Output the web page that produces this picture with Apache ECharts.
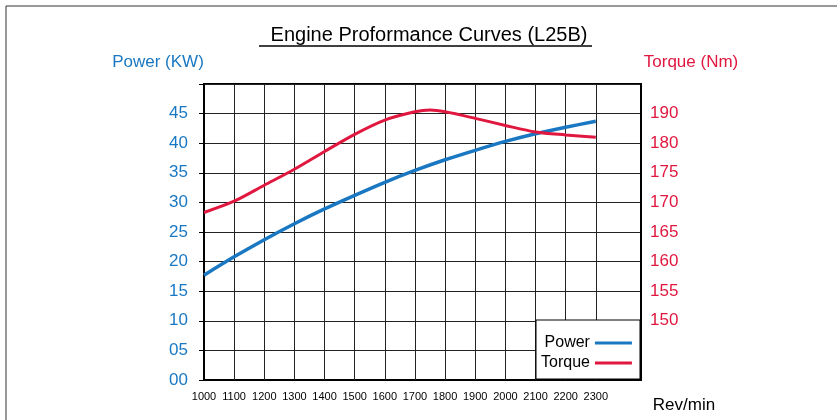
<!DOCTYPE html>
<html>
<head>
<meta charset="utf-8">
<script src="https://cdn.jsdelivr.net/npm/echarts@6/dist/echarts.min.js"></script>
<style>
html, body { margin: 0; padding: 0; background: #fff; }
#customerChart { width: 837px; height: 420px; }
</style>
</head>
<body>
<div id="customerChart"></div>
<script>
// engine speed (rev/min)
var rpm = [1000, 1100, 1200, 1300, 1400, 1500, 1600, 1700, 1800, 1900, 2000, 2100, 2200, 2300];
var power = [17.7, 20.8, 23.7, 26.4, 28.9, 31.2, 33.4, 35.4, 37.2, 38.8, 40.3, 41.6, 42.7, 43.7];
// torque has an extra point at the peak
var torqueRpm = [1000, 1100, 1200, 1300, 1400, 1500, 1600, 1700, 1750, 1800, 1900, 2000, 2100, 2200, 2300];
var torque = [168.3, 170.2, 172.9, 175.6, 178.6, 181.5, 183.9, 185.3, 185.6, 185.3, 184.2, 183.0, 181.9, 181.4, 181.0];

// tick labels as printed on the sheet
var powerLabels = ['00', '05', '10', '15', '20', '25', '30', '35', '40', '45', ''];
var torqueLabels = ['', '', '150', '155', '160', '165', '170', '175', '180', '190', ''];
var gridRpm = [1100, 1200, 1300, 1400, 1500, 1600, 1700, 1800, 1900, 2000, 2100, 2200, 2300];

var blue = '#1a78c2';
var red = '#e0173f';
var font = 'Liberation Sans';

var myChart = echarts.init(document.getElementById('customerChart'));
myChart.setOption({
  animation: false,
  textStyle: { fontFamily: font },
  grid: {
    left: 204, right: 196, top: 84, bottom: 40,
    show: true, borderColor: '#000', borderWidth: 2
  },
  legend: {
    left: 536, top: 330,
    orient: 'vertical',
    align: 'right',
    icon: 'rect',
    itemWidth: 37, itemHeight: 3,
    itemGap: 4,
    z: 4,
    textStyle: { fontSize: 16, color: '#000', width: 55, align: 'right', fontFamily: font },
    data: ['Power', 'Torque']
  },
  xAxis: {
    type: 'value',
    min: 1000, max: 2450, interval: 100,
    axisLine: { show: true, lineStyle: { color: '#000', width: 2 } },
    axisTick: { show: false },
    splitLine: { show: false },
    axisLabel: {
      fontSize: 11, color: '#000', margin: 11,
      formatter: function (v) { return v <= 2300 ? String(v) : ''; }
    }
  },
  yAxis: [
    {
      type: 'value', position: 'left',
      min: 0, max: 50, interval: 5,
      axisLine: { show: true, lineStyle: { color: '#000', width: 2 } },
      axisTick: { show: true, length: 5, lineStyle: { color: '#000' } },
      axisLabel: {
        fontSize: 17, color: blue, margin: 16,
        formatter: function (v) { return powerLabels[Math.round(v / 5)]; }
      },
      splitLine: { show: true, lineStyle: { color: '#222', width: 1 } }
    },
    {
      type: 'value', position: 'right',
      min: 140, max: 190, interval: 5,
      axisLine: { show: true, lineStyle: { color: '#000', width: 2 } },
      axisTick: { show: false },
      axisLabel: {
        fontSize: 17, color: red, margin: 9,
        formatter: function (v) { return torqueLabels[Math.round((v - 140) / 5)]; }
      },
      splitLine: { show: false }
    }
  ],
  graphic: [
    { type: 'rect', silent: true, z: -10, shape: { x: 6, y: 6, width: 900, height: 500 }, style: { fill: 'none', stroke: '#333', lineWidth: 1 } },
    { type: 'text', silent: true, x: 429, y: 35, style: { text: 'Engine Proformance Curves (L25B)', fontSize: 20, fontFamily: font, fill: '#000', align: 'center', verticalAlign: 'middle' } },
    { type: 'line', silent: true, shape: { x1: 259, y1: 46, x2: 592, y2: 46 }, style: { stroke: '#000', lineWidth: 1.5 } },
    { type: 'text', silent: true, x: 158, y: 62, style: { text: 'Power (KW)', fontSize: 17, fontFamily: font, fill: blue, align: 'center', verticalAlign: 'middle' } },
    { type: 'text', silent: true, x: 691, y: 62, style: { text: 'Torque (Nm)', fontSize: 17, fontFamily: font, fill: red, align: 'center', verticalAlign: 'middle' } },
    { type: 'text', silent: true, x: 684, y: 405, style: { text: 'Rev/min', fontSize: 17, fontFamily: font, fill: '#000', align: 'center', verticalAlign: 'middle' } },
    // white box behind the legend
    { type: 'rect', silent: true, z: 2, shape: { x: 536, y: 320, width: 104, height: 59 }, style: { fill: '#fff', stroke: '#000', lineWidth: 1 } }
  ],
  series: [
    {
      name: 'Power',
      type: 'line',
      yAxisIndex: 0,
      z: 3,
      smooth: 0.3,
      showSymbol: false,
      color: blue,
      lineStyle: { width: 3.5 },
      data: rpm.map(function (r, i) { return [r, power[i]]; }),
      // vertical grid lines
      markLine: {
        silent: true, z: 1,
        symbol: ['none', 'none'],
        label: { show: false },
        lineStyle: { color: '#222', width: 1, type: 'solid' },
        data: gridRpm.map(function (r) { return { xAxis: r }; })
      }
    },
    {
      name: 'Torque',
      type: 'line',
      yAxisIndex: 1,
      z: 3,
      smooth: 0.3,
      showSymbol: false,
      color: red,
      lineStyle: { width: 3 },
      data: torqueRpm.map(function (r, i) { return [r, torque[i]]; })
    }
  ]
});
</script>
</body>
</html>
